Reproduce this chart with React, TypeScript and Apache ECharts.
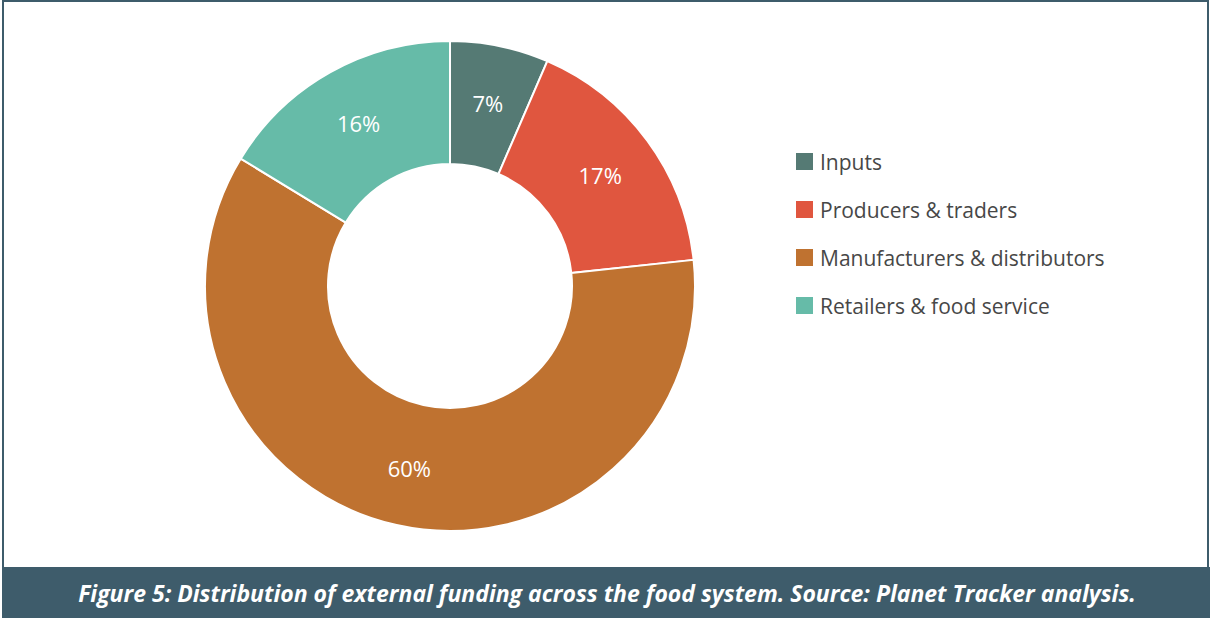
import React, { useEffect, useRef } from "react";
import * as echarts from "echarts";

const categories = ["Inputs", "Producers & traders", "Manufacturers & distributors", "Retailers & food service"];
const values = [6.5, 16.8, 60.4, 16.3];
const colors = ["#557a74", "#e0563f", "#bf7230", "#66bba8"];
const caption = "Figure 5: Distribution of external funding across the food system. Source: Planet Tracker analysis.";

export default function App() {
  const ref = useRef<HTMLDivElement>(null);
  useEffect(() => {
    document.body.style.margin = "0";
    const chart = echarts.init(ref.current!, null, { renderer: "svg" });
    chart.setOption({
      animation: false,
      backgroundColor: "#ffffff",
      color: colors,
      legend: {
        orient: "vertical",
        left: 789,
        top: 146,
        itemWidth: 19,
        itemHeight: 19,
        itemGap: 27,
        icon: "rect",
        data: categories,
        textStyle: { fontFamily: "Open Sans", fontSize: 21, color: "#474747", padding: [0, 0, 0, 1] },
      },
      graphic: [
        {
          type: "rect",
          shape: { x: 3, y: 1, width: 1205, height: 580 },
          style: { fill: "none", stroke: "#3e5c6b", lineWidth: 2 },
          silent: true,
        },
        {
          type: "rect",
          shape: { x: 2, y: 567, width: 1208, height: 51 },
          style: { fill: "#3e5c6b" },
          silent: true,
        },
        {
          type: "text",
          x: 607,
          y: 593,
          style: {
            text: caption,
            fill: "#ffffff",
            font: "italic bold 23px 'Open Sans'",
            align: "center",
            verticalAlign: "middle",
          },
          silent: true,
        },
      ],
      series: [
        {
          type: "pie",
          center: [450, 286],
          radius: [122, 245],
          startAngle: 90,
          clockwise: true,
          avoidLabelOverlap: false,
          itemStyle: { borderColor: "#ffffff", borderWidth: 2 },
          label: {
            show: true,
            position: "inside",
            formatter: (p: any) => `${Math.round(p.value)}%`,
            color: "#ffffff",
            fontFamily: "Open Sans",
            fontSize: 22,
          },
          labelLine: { show: false },
          emphasis: { disabled: true },
          data: categories.map((name, i) => ({ name, value: values[i] })),
        },
      ],
    });
    return () => chart.dispose();
  }, []);
  return <div ref={ref} style={{ width: 1210, height: 618 }} />;
}
